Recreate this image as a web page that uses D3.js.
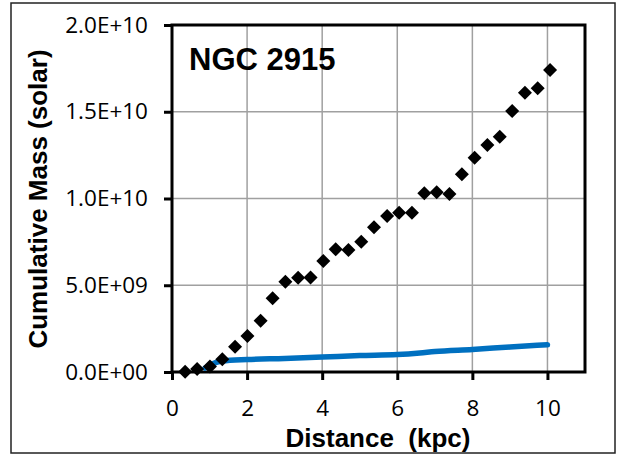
<!DOCTYPE html>
<html><head><meta charset="utf-8">
<script src="https://cdn.jsdelivr.net/npm/d3@7"></script>
<style>body{margin:0;background:#fff}svg{display:block}</style>
</head><body><svg id="c" width="617" height="456"></svg>
<script>
const distance = [0.35,0.67,1.01,1.34,1.68,2.01,2.36,2.68,3.02,3.36,3.69,4.03,4.36,4.70,5.04,5.38,5.73,6.05,6.39,6.72,7.05,7.39,7.72,8.06,8.40,8.73,9.06,9.40,9.74,10.07];
const mass = [0.02e9,0.17e9,0.31e9,0.73e9,1.46e9,2.08e9,2.96e9,4.25e9,5.20e9,5.43e9,5.45e9,6.40e9,7.07e9,7.03e9,7.51e9,8.34e9,8.99e9,9.18e9,9.18e9,10.30e9,10.36e9,10.26e9,11.40e9,12.35e9,13.08e9,13.56e9,15.04e9,16.10e9,16.35e9,17.41e9];
const lineDistance = [0.88,1.07,1.33,2.0,3.0,4.0,5.0,6.0,6.6,7.0,8.0,9.0,10.0];
const lineMass = [0.23e9,0.46e9,0.63e9,0.72e9,0.78e9,0.86e9,0.95e9,1.01e9,1.10e9,1.18e9,1.30e9,1.44e9,1.57e9];
const xTicks = [0,2,4,6,8,10];
const yTicks = [0,5e9,1e10,1.5e10,2e10];
const yTickLabels = ["0.0E+00","5.0E+09","1.0E+10","1.5E+10","2.0E+10"];

const svg = d3.select("#c");
const L=172, R=585, T=25, B=372;
const x = d3.scaleLinear().domain([0,11]).range([L,R]);
const y = d3.scaleLinear().domain([0,2e10]).range([B,T]);

svg.append("rect").attr("x",11).attr("y",3).attr("width",604).attr("height",450)
  .attr("fill","none").attr("stroke","#222").attr("stroke-width",1.5);

// gridlines
const g = svg.append("g");
g.selectAll(".vx").data(xTicks.filter(d=>d>0)).join("line")
  .attr("x1",d=>x(d)).attr("x2",d=>x(d)).attr("y1",T).attr("y2",B)
  .attr("stroke","#a0a0a0").attr("stroke-width",1.5);
g.selectAll(".hy").data(yTicks.filter(d=>d>0)).join("line")
  .attr("x1",L).attr("x2",R).attr("y1",d=>y(d)).attr("y2",d=>y(d))
  .attr("stroke","#a0a0a0").attr("stroke-width",1.5);

// axes
const tickFont = "'Open Sans', sans-serif";
const xa = svg.append("g").attr("transform",`translate(0,${B})`)
  .call(d3.axisBottom(x).tickValues(xTicks).tickSize(8).tickPadding(20).tickFormat(d3.format("d")));
const ya = svg.append("g").attr("transform",`translate(${L},0)`)
  .call(d3.axisLeft(y).tickValues(yTicks).tickSize(8).tickPadding(16).tickFormat((d,i)=>yTickLabels[i]));
[xa,ya].forEach(a=>{
  a.select(".domain").remove();
  a.selectAll(".tick line").attr("stroke","#000").attr("stroke-width",3);
  a.selectAll(".tick text").attr("fill","#000").style("font-family",tickFont).style("font-size","22.5px");
});

// frame
svg.append("rect").attr("x",L).attr("y",T).attr("width",R-L).attr("height",B-T)
  .attr("fill","none").attr("stroke","#000").attr("stroke-width",3);

// blue line
svg.append("path").datum(lineDistance.map((d,i)=>[d,lineMass[i]]))
  .attr("d",d3.line().x(d=>x(d[0])).y(d=>y(d[1])).curve(d3.curveMonotoneX))
  .attr("fill","none").attr("stroke","#0070C0").attr("stroke-width",5.5)
  .attr("stroke-linecap","round").attr("stroke-linejoin","round");

// diamonds
const sym = d3.symbol().type(d3.symbolSquare).size(98);
svg.selectAll(".pt").data(distance.map((d,i)=>[d,mass[i]])).join("path")
  .attr("d",sym).attr("fill","#000")
  .attr("transform",d=>`translate(${x(d[0])},${y(d[1])}) rotate(45)`);

// titles
svg.append("text").attr("x",189).attr("y",70).text("NGC 2915")
  .style("font-family","'Liberation Sans', Arial, sans-serif").style("font-weight","bold").style("font-size","31px");
svg.append("text").attr("x",378).attr("y",447).attr("text-anchor","middle").text("Distance  (kpc)")
  .attr("xml:space","preserve").style("white-space","pre")
  .style("font-family","'Liberation Sans', Arial, sans-serif").style("font-weight","bold").style("font-size","26px");
svg.append("text").attr("transform","translate(47,199) rotate(-90)").attr("text-anchor","middle")
  .text("Cumulative Mass (solar)")
  .style("font-family","'Liberation Sans', Arial, sans-serif").style("font-weight","bold").style("font-size","26px");
</script></body></html>
